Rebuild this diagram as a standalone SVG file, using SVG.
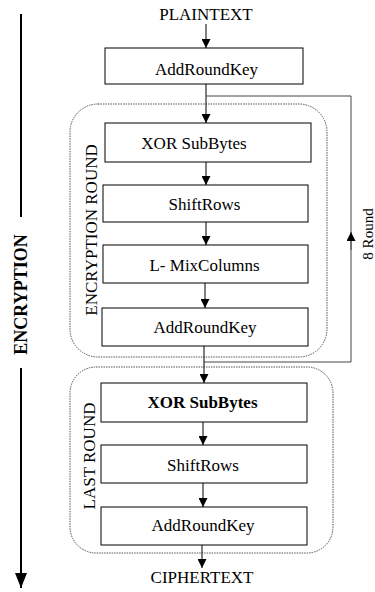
<svg xmlns="http://www.w3.org/2000/svg" width="375" height="592" viewBox="0 0 375 592">
<style>
.box{fill:#fff;stroke:#000;stroke-width:1}
.grp{fill:none;stroke:#555;stroke-width:1;stroke-dasharray:1.5 1}
.t{font-family:"Liberation Serif","Times New Roman",serif;font-size:17px;fill:#000;text-anchor:middle}
.b{font-weight:bold}
.ln{stroke:#000;stroke-width:1;fill:none}
.lp{stroke:#444;stroke-width:1;fill:none}
</style>
<defs>
<marker id="ah" markerUnits="userSpaceOnUse" markerWidth="9" markerHeight="9" refX="9" refY="4.5" orient="auto">
<path d="M0,0 L9,4.5 L0,9 z" fill="#000"/>
</marker>
<marker id="ahBig" markerUnits="userSpaceOnUse" markerWidth="15" markerHeight="12" refX="15" refY="6" orient="auto">
<path d="M0,0 L15,6 L0,12 z" fill="#000"/>
</marker>
</defs>

<g id="axis">
<line x1="21" y1="14" x2="21" y2="217" stroke="#000" stroke-width="2"/>
<line x1="21" y1="368" x2="21" y2="588" stroke="#000" stroke-width="2" marker-end="url(#ahBig)"/>
<text class="t b" transform="translate(27,294.5) rotate(-90)" style="font-size:18px">ENCRYPTION</text>
</g>

<g id="encryption-round">
<rect class="grp" x="70" y="104" width="257" height="253" rx="28" ry="28"/>
<text class="t" transform="translate(97,230) rotate(-90)">ENCRYPTION ROUND</text>
</g>
<g id="last-round">
<rect class="grp" x="70" y="367" width="263" height="186" rx="26" ry="26"/>
<text class="t" transform="translate(95,456) rotate(-90)">LAST ROUND</text>
</g>

<g id="connectors">
<line class="ln" x1="206" y1="24" x2="206" y2="48" marker-end="url(#ah)"/>
<line class="ln" x1="206" y1="84" x2="206" y2="123" marker-end="url(#ah)"/>
<polyline class="lp" points="204,362 351,362 351,96 206,96"/>
<line class="lp" x1="351" y1="250" x2="351" y2="232" marker-end="url(#ah)"/>
<line class="ln" x1="206" y1="162" x2="206" y2="185" marker-end="url(#ah)"/>
<line class="ln" x1="206" y1="222" x2="206" y2="245" marker-end="url(#ah)"/>
<line class="ln" x1="205" y1="283" x2="205" y2="308" marker-end="url(#ah)"/>
<line class="ln" x1="204" y1="346" x2="204" y2="383" marker-end="url(#ah)"/>
<line class="ln" x1="203" y1="422" x2="203" y2="445" marker-end="url(#ah)"/>
<line class="ln" x1="203" y1="483" x2="203" y2="507" marker-end="url(#ah)"/>
<line class="ln" x1="202" y1="545" x2="202" y2="568" marker-end="url(#ah)"/>
<text class="t" transform="translate(373,234) rotate(-90)" style="font-size:15px">8 Round</text>
</g>

<g id="plaintext"><text class="t" x="206" y="20">PLAINTEXT</text></g>
<g id="addroundkey-initial">
<rect class="box" x="105" y="48" width="198" height="36"/>
<text class="t" x="206.5" y="75">AddRoundKey</text>
</g>
<g id="xor-subbytes-1">
<rect class="box" x="105" y="123" width="206" height="39"/>
<text class="t" x="194" y="149">XOR SubBytes</text>
</g>
<g id="shiftrows-1">
<rect class="box" x="103" y="185" width="205" height="37"/>
<text class="t" x="204.5" y="210">ShiftRows</text>
</g>
<g id="mixcolumns-1">
<rect class="box" x="103" y="245" width="205" height="38"/>
<text class="t" x="204.5" y="271">L- MixColumns</text>
</g>
<g id="addroundkey-1">
<rect class="box" x="102" y="308" width="206" height="38"/>
<text class="t" x="205" y="333">AddRoundKey</text>
</g>
<g id="xor-subbytes-2">
<rect class="box" x="101" y="383" width="206" height="39"/>
<text class="t b" x="202.5" y="408">XOR SubBytes</text>
</g>
<g id="shiftrows-2">
<rect class="box" x="101" y="445" width="206" height="38"/>
<text class="t" x="203" y="471">ShiftRows</text>
</g>
<g id="addroundkey-2">
<rect class="box" x="101" y="507" width="206" height="38"/>
<text class="t" x="203" y="531">AddRoundKey</text>
</g>
<g id="ciphertext"><text class="t" x="202" y="583">CIPHERTEXT</text></g>
</svg>
